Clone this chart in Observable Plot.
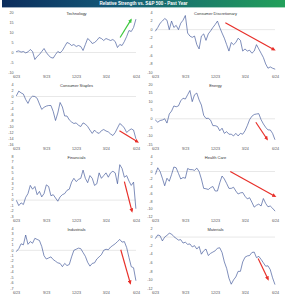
<!DOCTYPE html>
<html><head><meta charset="utf-8">
<script src="https://cdn.jsdelivr.net/npm/d3@7"></script>
<script src="https://cdn.jsdelivr.net/npm/@observablehq/plot@0.6"></script>
<style>
body{margin:0;background:#fff;}
#chart{position:relative;width:285px;height:300px;overflow:hidden;background:#fff;font-family:"Liberation Sans",Arial,sans-serif;}
#chart svg{position:absolute;overflow:visible;}
</style></head><body><div id="chart"></div>
<script>
const chartTitle = "Relative Strength vs. S&P 500 - Past Year";
const panelTitles = ["Technology","Consumer Discretionary","Consumer Staples","Energy","Financials","Health Care","Industrials","Materials"];
const xTickLabels = ["2023-06-01","2023-09-01","2023-12-01","2024-03-01","2024-06-01"];

// weekly readings, first week of June 2023 to end of May 2024
const technology = [0.5,0.8,0.2,0.5,-0.2,0.3,1.5,0.5,-3.5,-2,-1,0.5,2,0,-1.5,-2.5,-2.8,-1,0.5,-0.2,1,3,5,4.5,3.5,4,3,3.5,3,1,4,7,6,4.5,5,6,7.5,7,6,7,6.5,6,6.5,5.5,2.5,4,3.5,5.5,8,11,10.5,12.5,16.5];
const consumerDiscretionary = [-0.3,0.5,1.5,2,2.6,2.2,0,2,0.5,1,0,1.5,2.2,3.3,-0.8,-1.5,-1.8,-1.5,-3.5,-4.5,-1.5,-1,-2.5,-1,-0.3,0.5,1.2,2,0.5,-0.8,-2,-3.5,-5,-3,-3.5,-3,-2,-2.5,-5,-4.5,-5,-4.8,-5.5,-5,-3.5,-4.5,-5.5,-6.5,-8,-9,-8.7,-9,-9.2];
const consumerStaples = [0.3,1.8,1.2,0.8,-1,-2.3,-0.6,0.1,0,-0.6,-2.5,-4.3,-3.6,-3.2,-3,-3,-5,-8,-5.5,-2,-3.5,-6.5,-6.5,-7.8,-8.5,-9,-8.8,-9.6,-10,-8.8,-9.2,-10,-11.2,-12.3,-11.2,-12,-12.3,-11.4,-11,-11.5,-11.8,-12.5,-13,-12,-10.5,-9,-9.6,-10.5,-12,-11.3,-10.8,-11.2,-14];
const energy = [-0.8,-2,-1,-0.7,0,-2.5,2.8,4.5,7.5,7,7.5,10.5,12,11.5,14,16.5,10,14,15,11,8,2,0.2,0.3,-0.8,-4,-4,-4.5,-7,-5.5,-8.5,-7.5,-9,-9,-10,-8.5,-10,-8.5,-9,-7,-4,-0.5,1.5,2.5,2.8,3,-0.5,-3,-5,-6.5,-6.5,-8.5,-12];
const financials = [-0.1,-1,-0.5,-0.8,0.5,1.2,2.7,2,2.5,1,1.6,0.6,1.2,2.8,2.5,0.8,1,0.4,-0.2,0.6,1,1.2,1.8,2,3.3,4,3.4,3.8,4,5.5,4,3.2,4.5,4,2.7,3,5,4,4.5,5,4.2,5,5.3,5,3,6.5,5.8,4.2,4.5,3.5,2.7,3.3,-1.5];
const healthCare = [-0.7,1,0,-1.8,-3.8,-1.8,-2.6,-0.8,1.2,1,-0.5,-2,-1.6,-1.8,0.8,0.5,0.5,0.3,0.9,0,-2,-4.5,-4.6,-4.8,-4.3,-4,-5.2,-5.2,-3,-1.2,-2,-3.2,-4.5,-4.5,-4.2,-5.2,-6,-5.7,-5.6,-6.6,-7.3,-7,-8.2,-9.5,-9,-8.7,-9.2,-7.2,-8.5,-9.4,-9.2,-9.8,-10.5];
const industrials = [-0.2,0.3,1.2,1,2.8,1.1,1.6,1.3,2.2,2,1.8,0.7,-1,-1.6,-1.4,-1.2,-1.7,-2,-2.3,-2.4,-3,-2.4,-2.8,-2.6,-1.2,0,0.2,0.4,0.3,-0.4,-1.1,-2.2,-2.9,-2.4,-2.3,-1.6,-1.2,-0.8,0,0.2,0.1,0.6,0.9,1.2,1.6,2,1.5,1.6,0.5,-1.3,-3,-3.2,-5.5];
const materials = [-0.3,0.5,0.3,-0.9,0,0.4,0.9,0.7,0.1,-0.3,-0.7,-0.6,-1.4,-1.2,-1.7,-1.6,-2.3,-2,-2.8,-2.2,-4,-3.2,-2.8,-4.3,-3.8,-3.5,-3.2,-2.6,-2.5,-3.6,-5.8,-7.3,-9.6,-11,-10,-9.3,-8,-8,-5.8,-4.7,-4.4,-4.3,-3.6,-3.5,-4.8,-4.5,-5.2,-6,-6.8,-6.7,-7.6,-9.5,-11];

const yDomains = [[-10,20],[-10,4],[-16,4],[-15,20],[-3,8],[-12,4],[-7,4],[-12,2]];
const yTickSteps = [5,2,2,5,1,2,1,2];

// annotation arrows: [start date, start value, end date, end value]
const arrowTechnology = ["2024-04-12",7.5,"2024-05-15",16.3];
const arrowConsumerDiscretionary = ["2023-12-31",1.6,"2024-05-28",-4.7];
const arrowConsumerStaples = ["2024-04-10",-11.4,"2024-06-04",-15.1];
const arrowEnergy = ["2024-04-02",-2,"2024-05-06",-11.8];
const arrowFinancials = ["2024-04-25",3.4,"2024-05-18",-2];
const arrowHealthCare = ["2024-01-15",0,"2024-05-30",-6.6];
const arrowIndustrials = ["2024-04-14",0.1,"2024-05-13",-6];
const arrowMaterials = ["2024-04-09",-5,"2024-05-09",-9.8];
const arrowColors = ["#3ec83e","#e8302a","#e8302a","#e8302a","#e8302a","#e8302a","#e8302a","#e8302a"];

const series = [technology,consumerDiscretionary,consumerStaples,energy,financials,healthCare,industrials,materials];
const arrows = [arrowTechnology,arrowConsumerDiscretionary,arrowConsumerStaples,arrowEnergy,arrowFinancials,arrowHealthCare,arrowIndustrials,arrowMaterials];

const start = new Date(Date.UTC(2023,5,1));
const parse = s => new Date(s + "T00:00:00Z");
const chart = document.getElementById("chart");

// filled triangular arrowhead marker
function triangleHead(color, context) {
  const doc = (context && context.document) || document;
  const m = doc.createElementNS("http://www.w3.org/2000/svg", "marker");
  m.setAttribute("viewBox", "-5 -5 10 10");
  m.setAttribute("markerWidth", "3.6");
  m.setAttribute("markerHeight", "3.6");
  m.setAttribute("refX", "1");
  m.setAttribute("orient", "auto");
  const p = doc.createElementNS("http://www.w3.org/2000/svg", "path");
  p.setAttribute("d", "M-5,-4.5L5,0L-5,4.5Z");
  p.setAttribute("fill", color);
  p.setAttribute("stroke", "none");
  m.appendChild(p);
  return m;
}

// title bar
const bar = d3.create("svg").attr("width",285).attr("height",8).style("left","0px").style("top","0px");
const grad = bar.append("defs").append("linearGradient").attr("id","tb");
grad.append("stop").attr("offset","0%").attr("stop-color","#0b2c5c");
grad.append("stop").attr("offset","40%").attr("stop-color","#145a78");
grad.append("stop").attr("offset","100%").attr("stop-color","#22a05a");
bar.append("rect").attr("x",2).attr("y",0).attr("width",283).attr("height",7.4).attr("fill","url(#tb)");
bar.append("text").attr("x",143.5).attr("y",5.3).attr("text-anchor","middle").attr("fill","#fff")
  .attr("font-weight","bold").attr("font-size","4.5px").attr("font-family","Liberation Sans, Arial, sans-serif").text(chartTitle);
chart.appendChild(bar.node());

series.forEach((vals, i) => {
  const col = i % 2, row = Math.floor(i / 2);
  const data = vals.map((v, k) => ({date: d3.utcDay.offset(start, 7 * k), value: v}));
  const [lo, hi] = yDomains[i];
  const a = arrows[i];
  const arrowData = [{x1: parse(a[0]), y1: a[1], x2: parse(a[2]), y2: a[3]}];
  const width = col === 0 ? 140 : 145;
  const make = (arrowMark) => Plot.plot({
    width, height: 72,
    marginTop: 4, marginBottom: 8,
    marginLeft: col === 0 ? 16 : 15, marginRight: col === 0 ? 4 : 10,
    style: {fontSize: "3.7px", fontFamily: "Liberation Sans, Arial, sans-serif", color: "#555", background: "transparent", overflow: "visible"},
    x: {type: "utc", domain: [start, parse("2024-06-01")], ticks: xTickLabels.map(parse), tickFormat: d3.utcFormat("%-m/%y"), tickSize: 0, tickPadding: 3, label: null},
    y: {domain: [lo, hi], ticks: d3.range(lo, hi + 0.001, yTickSteps[i]), tickFormat: d => String(d), tickSize: 0, tickPadding: 3, label: null},
    marks: [
      Plot.ruleY([0], {stroke: "#d9d9d9", strokeWidth: 0.6}),
      Plot.lineY(data, {x: "date", y: "value", stroke: "#3a5296", strokeWidth: 0.65}),
      Plot.text([panelTitles[i]], {frameAnchor: "top", dy: 0, fontSize: 4, fill: "#333"}),
      arrowMark
    ]
  });
  let svg;
  try {
    svg = make(Plot.link(arrowData, {x1: "x1", y1: "y1", x2: "x2", y2: "y2", stroke: arrowColors[i], strokeWidth: 1.2, markerEnd: triangleHead}));
  } catch (e) {
    svg = make(Plot.arrow(arrowData, {x1: "x1", y1: "y1", x2: "x2", y2: "y2", stroke: arrowColors[i], strokeWidth: 1.2, headLength: 4}));
  }
  svg.style.left = (col === 0 ? 0 : 140) + "px";
  svg.style.top = (8 + 72 * row) + "px";
  chart.appendChild(svg);
});
</script></body></html>
